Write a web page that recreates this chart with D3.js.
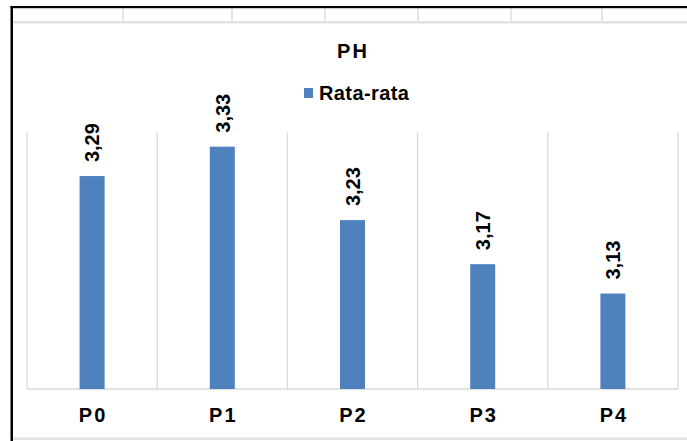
<!DOCTYPE html>
<html>
<head>
<meta charset="utf-8">
<script src="https://cdn.jsdelivr.net/npm/d3@7"></script>
<style>
  html, body { margin: 0; padding: 0; background: #ffffff; }
  svg { display: block; }
  text { font-family: "Liberation Sans", Arial, sans-serif; font-weight: bold; fill: #000; }
</style>
</head>
<body>
<svg id="chart" width="687" height="441"></svg>
<script>
// ---- data ----
const categories = ["P0", "P1", "P2", "P3", "P4"];
const values = [3.29, 3.33, 3.23, 3.17, 3.13];
const valueLabels = ["3,29", "3,33", "3,23", "3,17", "3,13"];
const seriesName = "Rata-rata";
const chartTitle = "PH";
const yDomain = [3.0, 3.35];

// ---- layout ----
const W = 687, H = 441;
const plot = { left: 27, right: 678, top: 132, bottom: 389 };
const barColor = "#4f81bd";
const gridColor = "#d9d9d9";

const svg = d3.select("#chart");
svg.append("rect").attr("width", W).attr("height", H).attr("fill", "#fff");

// spreadsheet background lines (above chart)
const sheetCols = [123, 232, 325, 418, 511, 602];
svg.selectAll("line.sheetcol").data(sheetCols).enter().append("line")
  .attr("x1", d => d).attr("x2", d => d).attr("y1", 8).attr("y2", 22)
  .attr("stroke", "#dcdcdc").attr("stroke-width", 1.5);
svg.append("rect").attr("x", 13).attr("y", 21).attr("width", W - 13).attr("height", 2.5).attr("fill", "#e3e3e3");
svg.append("rect").attr("x", 13).attr("y", 437.5).attr("width", W - 13).attr("height", 2.5).attr("fill", "#e3e3e3");

// chart frame (black top and left edges)
svg.append("rect").attr("x", 10.5).attr("y", 6).attr("width", W - 10.5).attr("height", 2.2).attr("fill", "#000");
svg.append("rect").attr("x", 10.5).attr("y", 6).attr("width", 2.5).attr("height", H - 6).attr("fill", "#000");

// scales
const x = d3.scaleBand().domain(categories).range([plot.left, plot.right])
  .paddingInner(0.808).paddingOuter(0.404);
const y = d3.scaleLinear().domain(yDomain).range([plot.bottom, plot.top]);
const step = x.step();

// vertical category gridlines
const bounds = categories.map((c, i) => plot.left + i * step).concat([plot.right]);
svg.selectAll("line.vgrid").data(bounds).enter().append("line")
  .attr("x1", d => d).attr("x2", d => d)
  .attr("y1", plot.top).attr("y2", plot.bottom)
  .attr("stroke", gridColor).attr("stroke-width", 1.3);

// baseline axis
svg.append("line").attr("x1", plot.left).attr("x2", plot.right)
  .attr("y1", plot.bottom).attr("y2", plot.bottom)
  .attr("stroke", gridColor).attr("stroke-width", 1.3);

// bars
svg.selectAll("rect.bar").data(values).enter().append("rect")
  .attr("class", "bar")
  .attr("x", (d, i) => x(categories[i]))
  .attr("width", x.bandwidth())
  .attr("y", d => y(d))
  .attr("height", d => plot.bottom - y(d))
  .attr("fill", barColor);

// value labels (rotated)
svg.selectAll("text.val").data(values).enter().append("text")
  .attr("class", "val")
  .attr("transform", (d, i) => `translate(${x(categories[i]) + x.bandwidth() / 2},${y(d) - 14}) rotate(-90)`)
  .attr("dy", "0.36em")
  .attr("text-anchor", "start")
  .style("font-size", "20px")
  .text((d, i) => valueLabels[i]);

// category axis labels
const xAxis = d3.axisBottom(x).tickSize(0).tickPadding(0);
const gx = svg.append("g").attr("transform", `translate(0,${plot.bottom})`).call(xAxis);
gx.select(".domain").remove();
gx.selectAll("text")
  .attr("y", 33).attr("dy", 0).attr("dx", 1)
  .style("font-size", "20px")
  .style("letter-spacing", "2px")
  .style("font-family", "'Liberation Sans', Arial, sans-serif")
  .style("font-weight", "bold")
  .attr("fill", "#000");

// title
svg.append("text").attr("x", 353).attr("y", 58)
  .attr("text-anchor", "middle").style("font-size", "20px")
  .style("letter-spacing", "2px").text(chartTitle);

// legend
svg.append("rect").attr("x", 304).attr("y", 88).attr("width", 9).attr("height", 10).attr("fill", barColor);
svg.append("text").attr("x", 319).attr("y", 100)
  .style("font-size", "20px").style("letter-spacing", "0.4px").text(seriesName);
</script>
</body>
</html>
